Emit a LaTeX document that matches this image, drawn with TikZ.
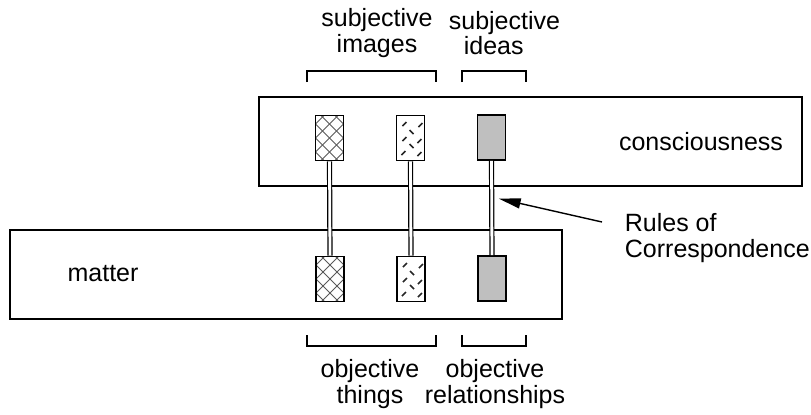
\documentclass[tikz,border=0pt]{standalone}
\usepackage{fontspec}
\setmainfont{Liberation Sans}
\usetikzlibrary{arrows.meta}

\begin{document}
\begin{tikzpicture}[x=0.5pt,y=-0.5pt,line width=0.9pt,
	  every node/.append style={inner sep=0pt},
	  region/.style={draw,rectangle},
	  cell/.style={draw,rectangle,minimum width=14pt,minimum height=22.5pt},
	  mesh/.style={cell,path picture={
	    \foreach \k in {-3,...,3}
	      {\draw[line width=0.5pt,black!65,shift={(path picture bounding box.center)}] (\k*14-30,-30) -- ++(60,60);
	       \draw[line width=0.5pt,black!65,shift={(path picture bounding box.center)}] (\k*14+30,-30) -- ++(-60,60);}}},
	  speck/.style={cell,path picture={
	    \foreach \px/\py/\a in {-6/-14/1, 10/-13/1, 1/-6/-1, -6/1/1, 9/3/1, 1/8/-1, -7/15/1, 9/16/1}
	      \draw[line width=0.8pt,black!85,shift={(path picture bounding box.center)}] (\px-2,\py+2*\a) -- (\px+2,\py-2*\a);}},
	  idea/.style={cell,fill=black!25},
	  link/.style={double,double distance=1.4pt,line width=0.6pt},
	  brace/.style={line width=0.7pt}]
	  \tikzstyle{word} = [font=\fontsize{12.5}{12.6}\selectfont,align=center]
	  \useasboundingbox (0,0) rectangle (811,414);
	  \node (cons) [region,minimum width=271.25pt,minimum height=44.75pt] at (530.5,141.5) {};
	  \node (mat) [region,minimum width=276pt,minimum height=44.5pt] at (286,274.5) {};
	  \node (cons_l) [word] at (701,142) {consciousness};
	  \node (mat_l) [word] at (103,274) {matter};
	  \node (t_1) [mesh] at (329.5,138) {};
	  \node (t_2) [speck] at (410.5,138) {};
	  \node (t_3) [idea] at (491.5,137.5) {};
	  \node (b_1) [mesh] at (330,279) {};
	  \node (b_2) [speck] at (411,279) {};
	  \node (b_3) [idea] at (492,278.5) {};
	  \draw[link] (t_1.south) -- (b_1.north);
	  \draw[link] (t_2.south) -- (b_2.north);
	  \draw[link] (t_3.south) -- coordinate[pos=0.4] (rc) (b_3.north);
	  \node (si) [word] at (377,33) {subjective\\images};
	  \node (sd) [word,align=left,anchor=west] at (448,33) {subjective\\\hspace*{7.5pt}ideas};
	  \node (ot) [word] at (370,384) {objective\\things};
	  \node (orl) [word] at (495,384) {objective\\relationships};
	  \node (rules) [word,align=left,anchor=west] at (624,238) {Rules of\\Correspondence};
	  \draw[brace] (307,82) -- (307,71) -- (436,71) -- (436,82);
	  \draw[brace] (462,82) -- (462,71) -- (526,71) -- (526,82);
	  \draw[brace] (307,335) -- (307,346) -- (436,346) -- (436,335);
	  \draw[brace] (462,335) -- (462,346) -- (526,346) -- (526,335);
	  \draw[-{Triangle[length=11pt,width=5pt]},line width=0.7pt] ([xshift=-11pt,yshift=8pt]rules.west) -- ([xshift=3.5pt]rc);
\end{tikzpicture}
\end{document}
